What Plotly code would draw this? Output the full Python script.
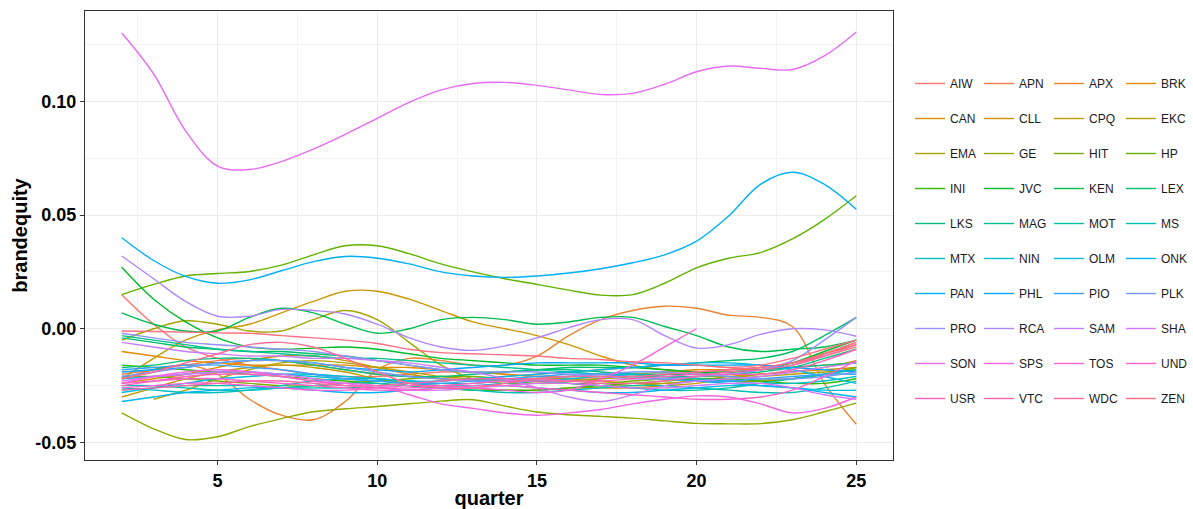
import math
import plotly.graph_objects as go

# Smoothed brand-equity estimates per brand, quarters 2..25
quarters = list(range(2, 26))

brands = ["AIW", "APN", "APX", "BRK", "CAN", "CLL", "CPQ", "EKC", "EMA", "GE",
          "HIT", "HP", "INI", "JVC", "KEN", "LEX", "LKS", "MAG", "MOT", "MS",
          "MTX", "NIN", "OLM", "ONK", "PAN", "PHL", "PIO", "PLK", "PRO", "RCA",
          "SAM", "SHA", "SON", "SPS", "TOS", "UND", "USR", "VTC", "WDC", "ZEN"]

AIW = [0.015, 0.002, -0.008, -0.013, -0.016, -0.018, -0.020, -0.021, -0.021, -0.020, -0.019, -0.019,
       -0.020, -0.021, -0.022, -0.022, -0.021, -0.020, -0.019, -0.018, -0.017, -0.015, -0.012, -0.008]
APN = [-0.020, -0.018, -0.016, -0.014, -0.013, -0.014, -0.016, -0.018, -0.020, -0.021, -0.022, -0.022,
       -0.021, -0.020, -0.019, -0.018, -0.017, -0.016, -0.016, -0.017, -0.018, -0.016, -0.011, -0.006]
APX = [-0.022, -0.018, -0.016, -0.020, -0.031, -0.038, -0.040, -0.032, -0.018, -0.013, -0.014, -0.016,
       -0.016, -0.012, -0.003, 0.004, 0.008, 0.0099, 0.009, 0.006, 0.005, 0.001, -0.024, -0.042]
BRK = [-0.010, -0.012, -0.014, -0.015, -0.016, -0.016, -0.016, -0.016, -0.017, -0.017, -0.018, -0.019,
       -0.020, -0.021, -0.021, -0.021, -0.020, -0.019, -0.018, -0.018, -0.017, -0.015, -0.011, -0.007]
CAN = [-0.024, -0.022, -0.020, -0.017, -0.014, -0.012, -0.012, -0.014, -0.017, -0.020, -0.022, -0.023,
       -0.023, -0.022, -0.022, -0.023, -0.024, -0.024, -0.023, -0.021, -0.020, -0.019, -0.018, -0.017]
CLL = [-0.022, -0.013, -0.005, -0.0005, 0.002, 0.007, 0.012, 0.0165, 0.0165, 0.013, 0.008, 0.003,
       0.000, -0.003, -0.007, -0.012, -0.016, -0.018, -0.019, -0.019, -0.018, -0.017, -0.016, -0.015]
CPQ = [-0.030, -0.026, -0.022, -0.019, -0.017, -0.016, -0.017, -0.019, -0.022, -0.024, -0.025, -0.026,
       -0.027, -0.027, -0.026, -0.026, -0.026, -0.025, -0.024, -0.022, -0.020, -0.019, -0.017, -0.014]
EKC = [None, -0.031, -0.027, -0.022, -0.018, -0.015, -0.014, -0.015, -0.017, -0.019, -0.021, -0.022,
       -0.023, -0.024, -0.024, -0.025, -0.025, -0.024, -0.023, -0.022, -0.021, -0.020, -0.019, -0.018]
EMA = [-0.005, 0.000, 0.0035, 0.002, -0.001, -0.001, 0.004, 0.008, 0.004, -0.006, -0.016, -0.022,
       -0.024, -0.024, -0.023, -0.022, -0.021, -0.021, -0.022, -0.023, -0.023, -0.022, -0.020, -0.017]
GE = [-0.037, -0.044, -0.0487, -0.0475, -0.043, -0.0395, -0.0365, -0.0352, -0.0342, -0.033, -0.0318, -0.0312,
      -0.034, -0.0366, -0.0378, -0.0385, -0.0393, -0.0405, -0.0416, -0.0418, -0.0417, -0.040, -0.0365, -0.0327]
HIT = [-0.021, -0.021, -0.022, -0.023, -0.024, -0.025, -0.025, -0.024, -0.023, -0.022, -0.021, -0.021,
       -0.022, -0.023, -0.024, -0.024, -0.023, -0.022, -0.021, -0.021, -0.022, -0.022, -0.020, -0.017]
HP = [0.015, 0.0195, 0.0232, 0.0243, 0.0252, 0.028, 0.0325, 0.0365, 0.0365, 0.033, 0.0285, 0.025,
      0.022, 0.0195, 0.017, 0.0148, 0.015, 0.020, 0.0268, 0.031, 0.0335, 0.0395, 0.048, 0.0585]
INI = [-0.016, -0.017, -0.018, -0.019, -0.020, -0.021, -0.022, -0.023, -0.024, -0.025, -0.026, -0.027,
       -0.027, -0.027, -0.026, -0.025, -0.024, -0.023, -0.022, -0.022, -0.023, -0.024, -0.024, -0.022]
JVC = [0.027, 0.013, 0.003, -0.004, -0.008, -0.009, -0.0085, -0.008, -0.009, -0.011, -0.013, -0.014,
       -0.015, -0.016, -0.016, -0.016, -0.017, -0.018, -0.019, -0.019, -0.018, -0.015, -0.010, -0.005]
KEN = [0.007, 0.002, -0.001, -0.001, 0.005, 0.009, 0.007, 0.002, -0.002, 0.000, 0.004, 0.005,
       0.004, 0.002, 0.003, 0.005, 0.005, 0.001, -0.003, -0.008, -0.010, -0.009, -0.008, -0.005]
LEX = [-0.004, -0.006, -0.008, -0.009, -0.010, -0.010, -0.011, -0.012, -0.014, -0.016, -0.018, -0.019,
       -0.019, -0.018, -0.017, -0.017, -0.017, -0.016, -0.015, -0.014, -0.013, -0.010, -0.003, 0.005]
LKS = [-0.017, -0.016, -0.014, -0.013, -0.013, -0.014, -0.016, -0.018, -0.020, -0.021, -0.021, -0.020,
       -0.019, -0.018, -0.018, -0.019, -0.020, -0.021, -0.021, -0.020, -0.019, -0.017, -0.013, -0.009]
MAG = [-0.003, -0.005, -0.007, -0.009, -0.010, -0.011, -0.012, -0.013, -0.013, -0.014, -0.015, -0.016,
       -0.017, -0.018, -0.019, -0.020, -0.020, -0.020, -0.020, -0.019, -0.018, -0.017, -0.016, -0.015]
MOT = [-0.027, -0.026, -0.025, -0.025, -0.025, -0.026, -0.026, -0.026, -0.025, -0.024, -0.023, -0.022,
       -0.022, -0.023, -0.024, -0.025, -0.026, -0.027, -0.027, -0.026, -0.024, -0.022, -0.020, -0.018]
MS = [-0.025, -0.025, -0.026, -0.027, -0.027, -0.026, -0.025, -0.024, -0.024, -0.025, -0.026, -0.027,
      -0.028, -0.028, -0.027, -0.026, -0.025, -0.025, -0.026, -0.027, -0.028, -0.028, -0.026, -0.023]
MTX = [-0.026, -0.027, -0.028, -0.028, -0.027, -0.025, -0.023, -0.022, -0.022, -0.023, -0.024, -0.024,
       -0.023, -0.022, -0.021, -0.020, -0.020, -0.021, -0.022, -0.023, -0.024, -0.024, -0.023, -0.021]
NIN = [-0.022, -0.021, -0.020, -0.019, -0.019, -0.020, -0.021, -0.022, -0.023, -0.024, -0.025, -0.025,
       -0.024, -0.023, -0.022, -0.021, -0.021, -0.022, -0.023, -0.024, -0.025, -0.026, -0.027, -0.027]
OLM = [-0.028, -0.026, -0.024, -0.022, -0.021, -0.020, -0.020, -0.021, -0.022, -0.023, -0.023, -0.022,
       -0.021, -0.020, -0.019, -0.018, -0.017, -0.016, -0.015, -0.015, -0.016, -0.018, -0.021, -0.024]
ONK = [-0.032, -0.030, -0.028, -0.027, -0.026, -0.026, -0.027, -0.028, -0.028, -0.027, -0.026, -0.025,
       -0.025, -0.026, -0.027, -0.028, -0.028, -0.027, -0.026, -0.025, -0.025, -0.026, -0.028, -0.030]
PAN = [0.040, 0.030, 0.023, 0.020, 0.0215, 0.0255, 0.0295, 0.0318, 0.031, 0.0285, 0.025, 0.0232,
       0.0226, 0.0232, 0.0245, 0.0264, 0.029, 0.0325, 0.0385, 0.0495, 0.0635, 0.0688, 0.0635, 0.0525]
PHL = [-0.019, -0.018, -0.017, -0.015, -0.014, -0.014, -0.015, -0.017, -0.018, -0.019, -0.018, -0.017,
       -0.016, -0.015, -0.015, -0.015, -0.015, -0.016, -0.016, -0.016, -0.016, -0.017, -0.018, -0.019]
PIO = [-0.018, -0.017, -0.016, -0.016, -0.017, -0.018, -0.020, -0.022, -0.023, -0.024, -0.024, -0.023,
       -0.022, -0.021, -0.020, -0.020, -0.021, -0.022, -0.023, -0.023, -0.022, -0.021, -0.020, -0.020]
PLK = [-0.021, -0.019, -0.017, -0.015, -0.014, -0.014, -0.015, -0.017, -0.019, -0.021, -0.022, -0.023,
       -0.023, -0.022, -0.021, -0.020, -0.019, -0.019, -0.020, -0.021, -0.022, -0.022, -0.021, -0.019]
PRO = [-0.002, -0.004, -0.006, -0.007, -0.008, -0.009, -0.010, -0.012, -0.014, -0.016, -0.018, -0.019,
       -0.019, -0.019, -0.020, -0.021, -0.022, -0.022, -0.021, -0.020, -0.018, -0.014, -0.005, 0.005]
RCA = [0.032, 0.022, 0.012, 0.0055, 0.0055, 0.0085, 0.008, 0.0065, 0.002, -0.004, -0.008, -0.0095,
       -0.0075, -0.004, 0.0005, 0.004, 0.004, -0.003, -0.0085, -0.007, -0.0025, 0.000, -0.0005, -0.0033]
SAM = [-0.006, -0.008, -0.010, -0.011, -0.012, -0.012, -0.013, -0.013, -0.014, -0.015, -0.017, -0.019,
       -0.022, -0.026, -0.030, -0.032, -0.029, -0.025, -0.023, -0.022, -0.021, -0.019, -0.017, -0.015]
SHA = [-0.023, -0.021, -0.020, -0.019, -0.019, -0.020, -0.022, -0.024, -0.026, -0.027, -0.027, -0.026,
       -0.025, -0.024, -0.024, -0.025, -0.026, -0.026, -0.025, -0.024, -0.024, -0.026, -0.029, -0.031]
SON = [0.130, 0.112, 0.087, 0.0715, 0.070, 0.0735, 0.079, 0.0855, 0.0925, 0.0995, 0.105, 0.1078,
       0.1083, 0.107, 0.105, 0.103, 0.1035, 0.1075, 0.113, 0.1155, 0.1145, 0.114, 0.120, 0.1305]
SPS = [-0.024, -0.021, -0.019, -0.018, -0.019, -0.021, -0.023, -0.024, -0.025, -0.029, -0.033, -0.035,
       -0.037, -0.038, -0.037, -0.0355, -0.033, -0.031, -0.0295, -0.030, -0.033, -0.037, -0.035, -0.030]
TOS = [-0.026, -0.025, -0.024, -0.024, -0.025, -0.026, -0.027, -0.027, -0.026, -0.025, -0.025, -0.026,
       -0.027, -0.028, -0.027, -0.022, -0.016, -0.008, 0.000, None, None, None, None, None]
UND = [-0.024, -0.023, -0.022, -0.022, -0.023, -0.024, -0.025, -0.026, -0.027, -0.027, -0.026, -0.025,
       -0.025, -0.026, -0.027, -0.028, -0.029, -0.030, -0.031, -0.031, -0.030, -0.027, -0.021, -0.014]
USR = [-0.025, -0.023, -0.021, -0.020, -0.020, -0.021, -0.023, -0.025, -0.026, -0.026, -0.025, -0.024,
       -0.023, -0.023, -0.023, -0.023, -0.022, -0.021, -0.020, -0.020, -0.020, -0.018, -0.014, -0.009]
VTC = [-0.027, -0.026, -0.025, -0.024, -0.023, -0.023, -0.024, -0.025, -0.025, -0.024, -0.023, -0.022,
       -0.022, -0.022, -0.023, -0.024, -0.024, -0.023, -0.021, -0.019, -0.018, -0.016, -0.012, -0.007]
WDC = [-0.022, -0.019, -0.015, -0.011, -0.007, -0.006, -0.008, -0.013, -0.019, -0.024, -0.026, -0.026,
       -0.024, -0.022, -0.021, -0.021, -0.021, -0.020, -0.019, -0.018, -0.017, -0.015, -0.011, -0.006]
ZEN = [-0.001, -0.0012, -0.0015, -0.0018, -0.002, -0.003, -0.004, -0.005, -0.0065, -0.009, -0.0105, -0.011,
       -0.0115, -0.012, -0.013, -0.0135, -0.0145, -0.015, -0.016, -0.017, -0.016, -0.013, -0.009, -0.005]

series = {name: globals()[name] for name in brands}
for name, vals in series.items():
    assert len(vals) == len(quarters), name

x_ticks = [5, 10, 15, 20, 25]
y_ticks = [-0.05, 0.00, 0.05, 0.10]
y_tick_text = ["-0.05", "0.00", "0.05", "0.10"]


def hcl_hex(h, c=100.0, l=65.0):
    """Polar CIE-Luv colour to sRGB hex (same conversion as R's hcl())."""
    hr = math.radians(h)
    U, V = c * math.cos(hr), c * math.sin(hr)
    Y = 100.0 * ((l + 16.0) / 116.0) ** 3
    xn, yn, zn = 95.047, 100.0, 108.883
    t = xn + 15 * yn + 3 * zn
    un, vn = 4 * xn / t, 9 * yn / t
    u = U / (13 * l) + un
    v = V / (13 * l) + vn
    X = 9.0 * Y * u / (4 * v)
    Z = -X / 3 - 5 * Y + 3 * Y / v
    X, Y, Z = X / 100, Y / 100, Z / 100
    rgb = [3.240479 * X - 1.537150 * Y - 0.498535 * Z,
           -0.969256 * X + 1.875992 * Y + 0.041556 * Z,
           0.055648 * X - 0.204043 * Y + 1.057311 * Z]
    out = []
    for ch in rgb:
        ch = 1.055 * ch ** (1 / 2.4) - 0.055 if ch > 0.0031308 else 12.92 * ch
        out.append(int(round(min(max(ch, 0.0), 1.0) * 255)))
    return "#%02X%02X%02X" % tuple(out)


n = len(brands)
palette = [hcl_hex(15 + 360.0 / n * i) for i in range(n)]

fig = go.Figure()
legend_ids = ["legend", "legend2", "legend3", "legend4"]
for i, name in enumerate(brands):
    fig.add_trace(go.Scatter(
        x=quarters, y=series[name], name=name, mode="lines",
        line=dict(color=palette[i], width=1.4, shape="spline", smoothing=1.0),
        legend=legend_ids[i % 4], legendgroup=name,
    ))

W, H = 1193, 509
ML, MR, MT, MB = 85, 300, 11, 49
plot_w = W - ML - MR
plot_h = H - MT - MB

font_family = "Liberation Sans, Arial, sans-serif"
legend_font = dict(family=font_family, size=12, color="#1a1a1a")
col_px = [910, 979, 1049, 1121]
legend_top_px = 69
legend_y = 1 - (legend_top_px - MT) / plot_h

layout_legends = {}
for k, lid in enumerate(legend_ids):
    layout_legends[lid] = dict(
        x=(col_px[k] - ML) / plot_w, xanchor="left",
        y=legend_y, yanchor="top",
        orientation="v", font=legend_font, tracegroupgap=16,
        bgcolor="rgba(0,0,0,0)", borderwidth=0, itemclick=False,
    )

axis_common = dict(
    showline=True, linecolor="#333333", linewidth=1.2, mirror=True,
    ticks="outside", ticklen=4, tickwidth=1, tickcolor="#333333",
    showgrid=True, gridcolor="#EBEBEB", gridwidth=1, zeroline=False,
    automargin=False,
    tickfont=dict(family=font_family, size=18, color="black", weight="bold"),
)
title_font = dict(family=font_family, size=20, color="black", weight="bold")

fig.update_layout(
    width=W, height=H,
    margin=dict(l=ML, r=MR, t=MT, b=MB, pad=0, autoexpand=False),
    paper_bgcolor="white", plot_bgcolor="white",
    showlegend=True,
    xaxis=dict(
        range=[0.85, 26.15], tickvals=x_ticks, ticktext=[str(v) for v in x_ticks],
        title=dict(text="quarter", font=title_font, standoff=16),
        minor=dict(tickvals=[2.5, 7.5, 12.5, 17.5, 22.5], showgrid=True,
                   gridcolor="#F2F2F2", gridwidth=1, ticks=""),
        **axis_common,
    ),
    yaxis=dict(
        range=[-0.0577, 0.1397], tickvals=y_ticks, ticktext=y_tick_text,
        title=dict(text="brandequity", font=title_font, standoff=2),
        minor=dict(tickvals=[-0.025, 0.025, 0.075, 0.125], showgrid=True,
                   gridcolor="#F2F2F2", gridwidth=1, ticks=""),
        **axis_common,
    ),
    **layout_legends,
)

fig.write_html("out.html")
